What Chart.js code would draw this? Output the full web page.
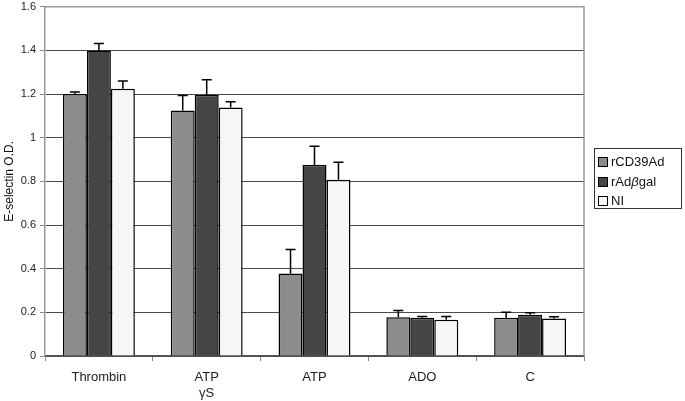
<!DOCTYPE html>
<html lang="en">
<head>
  <meta charset="UTF-8">
  <title>E-selectin O.D.</title>
  <script src="https://cdn.jsdelivr.net/npm/chart.js"></script>
  <style>
    body { margin: 0; background: #fff; font-family: "Liberation Sans", Arial, sans-serif; }
    .wrap { position: relative; width: 685px; height: 401px; }
    /* legend box */
    .legend {
      position: absolute; left: 594px; top: 148px; width: 88px; height: 61px;
      border: 1px solid #333; box-sizing: border-box; font-size: 13px; color: #111;
      padding: 4px 0 0 3px;
    }
    .legend div { height: 19.5px; line-height: 17px; white-space: nowrap; }
    .legend span.sw {
      display: inline-block; width: 8px; height: 8px; border: 1px solid #000;
      margin-right: 3px; vertical-align: -1px;
    }
  </style>
</head>
<body>
  <div class="wrap">
    <canvas id="chart" width="685" height="401"></canvas>
    <div class="legend" id="legend"></div>
  </div>

  <script>
    const categories = ['Thrombin', ['ATP', '\u03B3S'], 'ATP', 'ADO', 'C'];
    const seriesNames = ['rCD39Ad', 'rAd\u03B2gal', 'NI'];
    const cd39Values = [1.20, 1.125, 0.378, 0.178, 0.175];
    const cd39Errors = [0.01, 0.068, 0.11, 0.031, 0.026];
    const betagalValues = [1.40, 1.197, 0.875, 0.175, 0.189];
    const betagalErrors = [0.032, 0.068, 0.086, 0.006, 0.009];
    const niValues = [1.224, 1.138, 0.807, 0.166, 0.172];
    const niErrors = [0.036, 0.027, 0.081, 0.015, 0.008];
    const yTicks = [0, 0.2, 0.4, 0.6, 0.8, 1, 1.2, 1.4, 1.6];

    const colors = ['#8c8c8c', '#454545', '#f6f6f6'];

    // html legend (beta in italics like the original)
    document.getElementById('legend').innerHTML = seriesNames.map((n, i) =>
      `<div><span class="sw" style="background:${colors[i]}"></span>${n.replace('\u03B2', '<i>\u03B2</i>')}</div>`
    ).join('');

    // draws upward error bars with a cap
    const errorBars = {
      id: 'errorBars',
      afterDatasetsDraw(chart) {
        const ctx = chart.ctx;
        const y = chart.scales.y;
        ctx.save();
        ctx.strokeStyle = '#000';
        ctx.lineWidth = 1.5;
        chart.data.datasets.forEach((ds, di) => {
          const meta = chart.getDatasetMeta(di);
          meta.data.forEach((bar, i) => {
            const top = y.getPixelForValue(ds.data[i] + ds.errors[i]);
            ctx.beginPath();
            ctx.moveTo(bar.x, bar.y);
            ctx.lineTo(bar.x, top);
            ctx.moveTo(bar.x - 5, top);
            ctx.lineTo(bar.x + 5, top);
            ctx.stroke();
          });
        });
        ctx.restore();
      }
    };

    // grey frame round the plot area
    const frame = {
      id: 'frame',
      beforeDatasetsDraw(chart) {
        const { ctx, chartArea: a } = chart;
        ctx.save();
        ctx.strokeStyle = '#999';
        ctx.lineWidth = 1.5;
        ctx.beginPath();
        ctx.moveTo(a.left, a.top);
        ctx.lineTo(a.right, a.top);
        ctx.lineTo(a.right, a.bottom);
        ctx.stroke();
        ctx.restore();
      }
    };

    const mk = (label, data, errors, i) => ({
      label, data, errors,
      backgroundColor: colors[i],
      borderColor: '#000',
      borderWidth: 1.5,
      categoryPercentage: 0.667,
      barPercentage: 1
    });

    new Chart(document.getElementById('chart'), {
      type: 'bar',
      data: {
        labels: categories,
        datasets: [
          mk(seriesNames[0], cd39Values, cd39Errors, 0),
          mk(seriesNames[1], betagalValues, betagalErrors, 1),
          mk(seriesNames[2], niValues, niErrors, 2)
        ]
      },
      options: {
        responsive: false,
        animation: false,
        layout: { padding: { top: 0, right: 101, left: 0, bottom: 0 } },
        plugins: { legend: { display: false }, tooltip: { enabled: false } },
        scales: {
          x: {
            afterFit: s => { s.height = 45; },
            grid: { offset: true, drawOnChartArea: false, drawTicks: true, tickLength: 5, color: '#888' },
            border: { color: '#555', width: 1.5 },
            ticks: { color: '#222', font: { family: 'Liberation Sans', size: 13, lineHeight: 1.2 }, padding: 9 }
          },
          y: {
            min: 0, max: 1.6,
            afterFit: s => { s.width = 45; },
            afterBuildTicks: s => { s.ticks = yTicks.map(v => ({ value: v })); },
            grid: { color: '#4a4a4a', lineWidth: 1, tickLength: 5, tickColor: '#888' },
            border: { color: '#999', width: 1.5 },
            ticks: {
              color: '#222', padding: 4,
              font: { family: 'Liberation Sans', size: 11, lineHeight: 0.5 },
              callback: v => String(Math.round(v * 10) / 10)
            },
            title: {
              display: true, text: 'E-selectin O.D.', color: '#111',
              font: { family: 'Liberation Sans', size: 12 }, padding: { top: 2, bottom: 0 }
            }
          }
        }
      },
      plugins: [frame, errorBars]
    });
  </script>
</body>
</html>
